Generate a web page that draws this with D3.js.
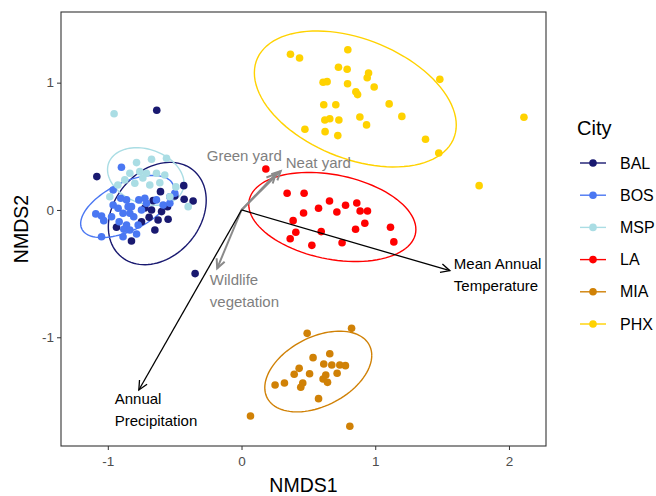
<!DOCTYPE html>
<html>
<head>
<meta charset="utf-8">
<script src="https://cdn.jsdelivr.net/npm/d3@7"></script>
<style>
  body { margin: 0; background: #fff; }
  text { font-family: "Liberation Sans", Arial, sans-serif; }
</style>
</head>
<body>
<svg id="chart" width="656" height="496"></svg>
<script>
/***********************************************************************/
// Data (NMDS scores)

var cities = ['BAL', 'BOS', 'MSP', 'LA', 'MIA', 'PHX'];

var balX = [-0.634, -1.082, -0.347, -0.606, -0.432, -0.429, -0.362, -0.553, -0.661, -0.673, -0.598, -0.691, -0.624, -0.549, -0.748, -0.648, -0.935, -0.823, -0.499, -0.723];
var balY = [0.783, 0.262, -0.500, 0.144, 0.191, 0.084, 0.071, 0.026, 0.073, 0.000, -0.013, -0.057, -0.079, -0.073, -0.092, -0.157, -0.136, -0.244, 0.110, 0.016];

var bosX = [-0.898, -0.960, -0.903, -0.860, -0.768, -0.723, -0.636, -0.536, -0.499, -0.923, -0.848, -0.823, -0.886, -0.835, -1.047, -1.090, -1.030, -0.972, -0.915, -0.806, -0.860, -0.773, -0.880, -0.835, -0.785, -1.047, -0.886, -0.748, -0.536, -0.586, -0.711, -0.960];
var bosY = [0.335, 0.157, 0.092, 0.079, 0.079, 0.092, 0.079, 0.104, 0.131, 0.013, 0.026, 0.026, -0.026, -0.026, -0.047, -0.031, -0.084, -0.053, -0.092, -0.053, -0.118, -0.118, -0.152, -0.157, -0.189, -0.210, -0.210, 0.000, 0.053, 0.039, 0.053, 0.039];

var mspX = [-0.953, -0.785, -0.673, -0.561, -0.835, -0.761, -0.711, -0.636, -0.798, -0.686, -0.611, -0.536, -0.399, -0.985, -0.873, -0.738, -0.574, -0.491, -0.925];
var mspY = [0.756, 0.372, 0.398, 0.406, 0.288, 0.301, 0.288, 0.288, 0.210, 0.196, 0.214, 0.104, 0.026, 0.104, 0.236, 0.251, 0.275, 0.181, 0.196];

var laX = [0.182, 0.341, 0.468, 0.658, 0.778, 0.862, 0.887, 0.942, 0.464, 0.576, 0.713, 0.386, 0.922, 1.114, 0.853, 0.596, 0.406, 0.364, 0.526, 0.752, 1.139];
var laY = [0.322, 0.131, 0.131, 0.071, 0.037, 0.055, -0.008, -0.008, -0.024, 0.013, -0.016, -0.084, -0.104, -0.136, -0.152, -0.170, -0.175, -0.226, -0.278, -0.257, -0.251];

var miaX = [0.491, 0.823, 0.535, 0.660, 0.615, 0.675, 0.735, 0.777, 0.431, 0.394, 0.509, 0.715, 0.630, 0.610, 0.643, 0.458, 0.443, 0.251, 0.321, 0.576, 0.067, 0.810];
var miaY = [-0.969, -0.930, -1.160, -1.129, -1.210, -1.218, -1.218, -1.223, -1.244, -1.291, -1.286, -1.283, -1.296, -1.328, -1.354, -1.359, -1.393, -1.375, -1.359, -1.482, -1.618, -1.699];

var phxX = [0.366, 0.434, 0.795, 0.725, 0.790, 0.950, 0.940, 0.610, 0.640, 0.793, 0.855, 0.868, 0.992, 1.483, 0.615, 0.705, 1.104, 1.199, 0.885, 0.623, 0.660, 0.728, 0.935, 0.474, 0.625, 0.720, 1.376, 1.475, 2.112, 1.777];
var phxY = [1.223, 1.194, 1.259, 1.121, 1.105, 1.076, 1.039, 1.003, 1.008, 0.992, 0.929, 0.906, 0.966, 1.026, 0.827, 0.827, 0.833, 0.735, 0.730, 0.707, 0.717, 0.707, 0.668, 0.634, 0.615, 0.584, 0.556, 0.448, 0.728, 0.191];

// 95% ellipses: centre, half extent along each axis, correlation (city order)
var ellipseCX  = [-0.630, -0.854, -0.716, 0.679, 0.574, 0.851];
var ellipseCY  = [-0.028, 0.027, 0.263, -0.055, -1.269, 0.872];
var ellipseRX  = [0.366, 0.349, 0.286, 0.625, 0.400, 0.755];
var ellipseRY  = [0.402, 0.244, 0.226, 0.350, 0.317, 0.534];
var ellipseRho = [0.26, 0.55, -0.24, -0.28, 0.40, -0.384];

// fitted vectors
var envNames = [['Mean Annual', 'Temperature'], ['Annual', 'Precipitation']];
var envX = [1.558, -0.768];
var envY = [-0.477, -1.414];

var yardNames = [['Green yard'], ['Neat yard'], ['Wildlife', 'vegetation']];
var yardX = [0.256, 0.293, -0.182];
var yardY = [0.283, 0.306, -0.458];

var xTicks = [-1, 0, 1, 2];
var yTicks = [-1, 0, 1];

/***********************************************************************/
// Setup

var cityX = [balX, bosX, mspX, laX, miaX, phxX];
var cityY = [balY, bosY, mspY, laY, miaY, phxY];
var colors = ['#191970', '#4a77f2', '#aadde4', '#ff0000', '#d08106', '#ffd200'];

var panel = { left: 61, right: 546, top: 12, bottom: 446 };

var svg = d3.select('#chart');
var x = d3.scaleLinear().domain([-1.35, 2.277]).range([panel.left, panel.right]);
var y = d3.scaleLinear().domain([-1.854, 1.555]).range([panel.bottom, panel.top]);
var color = d3.scaleOrdinal().domain(cities).range(colors);

/***********************************************************************/
// Axes

var xAxis = svg.append('g').attr('transform', 'translate(0,' + panel.bottom + ')')
  .call(d3.axisBottom(x).tickValues(xTicks).tickSize(4).tickPadding(3));
var yAxis = svg.append('g').attr('transform', 'translate(' + panel.left + ',0)')
  .call(d3.axisLeft(y).tickValues(yTicks).tickSize(4).tickPadding(3));

[xAxis, yAxis].forEach(g => {
  g.select('.domain').remove();
  g.selectAll('line').attr('stroke', '#333');
  g.selectAll('text').attr('fill', '#4d4d4d').style('font-size', '13.5px')
    .style('font-family', '"Liberation Sans", Arial, sans-serif')
    .text(d => d < 0 ? '-' + Math.abs(d) : d);
});
xAxis.selectAll('text').attr('dy', '0.95em');

svg.append('text').attr('x', (panel.left + panel.right) / 2).attr('y', 492)
  .attr('text-anchor', 'middle').style('font-size', '19.5px').text('NMDS1');
svg.append('text').attr('transform', 'translate(28,' + ((panel.top + panel.bottom) / 2) + ') rotate(-90)')
  .attr('text-anchor', 'middle').style('font-size', '19.5px').text('NMDS2');

/***********************************************************************/
// Ellipses

var ell = d3.line().x(d => x(d[0])).y(d => y(d[1]));
cities.forEach((c, i) => {
  var pts = d3.range(0, 101).map(k => {
    var t = 2 * Math.PI * k / 100;
    var r = ellipseRho[i];
    return [ellipseCX[i] + ellipseRX[i] * Math.cos(t),
            ellipseCY[i] + ellipseRY[i] * (r * Math.cos(t) + Math.sqrt(1 - r * r) * Math.sin(t))];
  });
  svg.append('path').attr('d', ell(pts)).attr('fill', 'none')
    .attr('stroke', color(c)).attr('stroke-width', 1.4);
});

/***********************************************************************/
// Points

cities.forEach((c, i) => {
  svg.append('g').selectAll('circle').data(d3.range(cityX[i].length)).enter()
    .append('circle')
    .attr('cx', j => x(cityX[i][j])).attr('cy', j => y(cityY[i][j]))
    .attr('r', 3.8).attr('fill', color(c));
});

/***********************************************************************/
// Vectors

function arrow(x1, y1, col, width){
  var x0 = x(0), y0 = y(0), xe = x(x1), ye = y(y1);
  var a = Math.atan2(ye - y0, xe - x0), L = 10, spread = Math.PI / 7;
  svg.append('line').attr('x1', x0).attr('y1', y0).attr('x2', xe).attr('y2', ye)
    .attr('stroke', col).attr('stroke-width', width);
  svg.append('path')
    .attr('d', 'M' + (xe - L * Math.cos(a - spread)) + ',' + (ye - L * Math.sin(a - spread)) +
               'L' + xe + ',' + ye +
               'L' + (xe - L * Math.cos(a + spread)) + ',' + (ye - L * Math.sin(a + spread)))
    .attr('fill', 'none').attr('stroke', col).attr('stroke-width', width);
}

function label(lines, lx, ly, col){
  var t = svg.append('text').attr('x', x(lx)).attr('y', y(ly)).attr('fill', col).style('font-size', '15px');
  lines.forEach((s, k) => {
    t.append('tspan').attr('x', x(lx)).attr('dy', k === 0 ? 0 : 22).text(s);
  });
}

yardNames.forEach((n, i) => arrow(yardX[i], yardY[i], '#8a8a8a', 2));
envNames.forEach((n, i) => arrow(envX[i], envY[i], '#000', 1.3));

var envLabelPos = [[1.588, -0.460], [-0.948, -1.526]];
var yardLabelPos = [[-0.260, 0.383], [0.331, 0.328], [-0.237, -0.592]];
envNames.forEach((n, i) => label(n, envLabelPos[i][0], envLabelPos[i][1], '#000'));
yardNames.forEach((n, i) => label(n, yardLabelPos[i][0], yardLabelPos[i][1], '#7f7f7f'));

/***********************************************************************/
// Panel border

svg.append('rect').attr('x', panel.left).attr('y', panel.top)
  .attr('width', panel.right - panel.left).attr('height', panel.bottom - panel.top)
  .attr('fill', 'none').attr('stroke', '#333').attr('stroke-width', 1.1);

/***********************************************************************/
// Legend

var legend = svg.append('g').attr('transform', 'translate(577,0)');
legend.append('text').attr('x', 0).attr('y', 135).style('font-size', '20px').text('City');
cities.forEach((c, i) => {
  var ly = 163 + i * 32.2;
  legend.append('line').attr('x1', 3).attr('x2', 29).attr('y1', ly).attr('y2', ly)
    .attr('stroke', color(c)).attr('stroke-width', 1.4);
  legend.append('circle').attr('cx', 16).attr('cy', ly).attr('r', 3.8).attr('fill', color(c));
  legend.append('text').attr('x', 43).attr('y', ly + 5.6).style('font-size', '16px').text(c);
});
</script>
</body>
</html>
